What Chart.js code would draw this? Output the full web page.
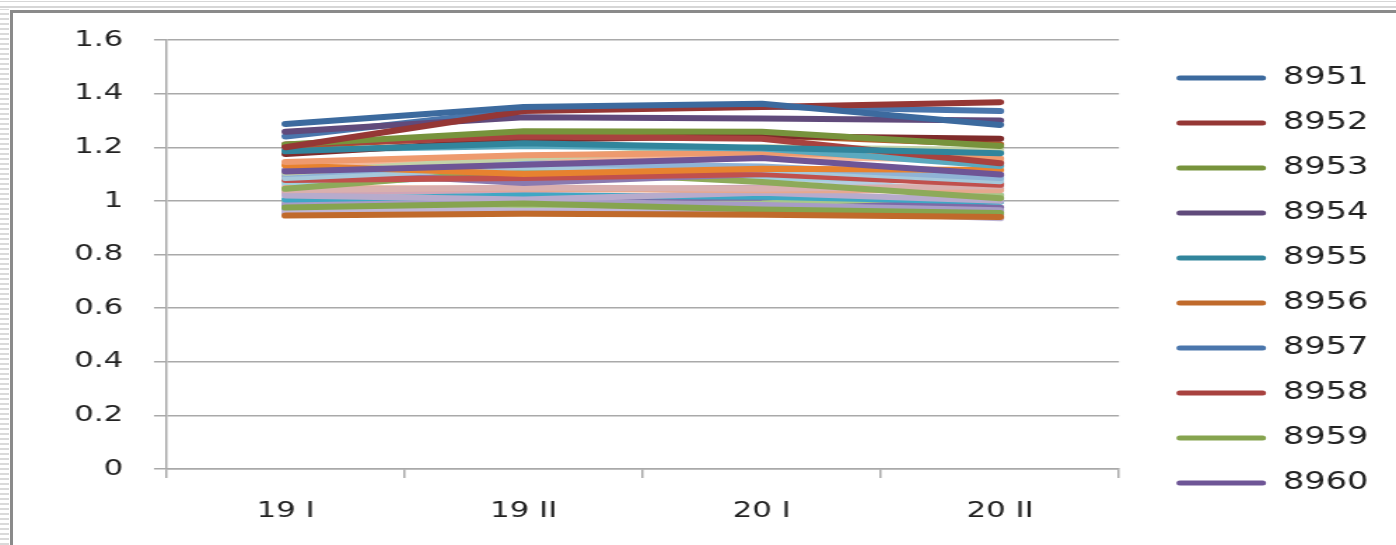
<!DOCTYPE html>
<html>
<head>
<meta charset="utf-8">
<script src="https://cdn.jsdelivr.net/npm/chart.js@4/dist/chart.umd.min.js"></script>
<style>
  html, body { margin: 0; padding: 0; background: #fff; width: 1396px; height: 545px; overflow: hidden; }
  #rows { position: absolute; left: 0; top: 0; width: 9px; height: 545px;
          background: repeating-linear-gradient(to bottom, #fff 0, #fff 3px, #dadada 3px, #dadada 5px); }
  #cols { position: absolute; left: 0; top: 0; width: 1396px; height: 9px;
          background: linear-gradient(to bottom, #fff 0, #fff 1px, #d6d6d6 1px, #d6d6d6 2px, #fff 2px, #fff 6px, #d6d6d6 6px, #d6d6d6 8px, #fff 8px); }
  #frame { position: absolute; left: 10px; top: 10px; width: 1400px; height: 600px;
           border-left: 3px solid #8a8a8a; border-top: 3px solid #8a8a8a; }
  #wrap { position: absolute; left: 0; top: 0; width: 997px; height: 545px;
          transform: scaleX(1.4002); transform-origin: 0 0; }
</style>
</head>
<body>
<div id="rows"></div>
<div id="cols"></div>
<div id="frame"></div>
<div id="wrap"><canvas id="c" width="997" height="545"></canvas></div>
<script>
// Half-year periods on the category axis
const periods = ['19 I', '19 II', '20 I', '20 II'];
const yTickLabels = ['0', '0.2', '0.4', '0.6', '0.8', '1', '1.2', '1.4', '1.6'];

// One small array per station: values for 19 I, 19 II, 20 I, 20 II
const s8951 = [1.287, 1.350, 1.362, 1.283];
const s8952 = [1.200, 1.335, 1.350, 1.368];
const s8953 = [1.210, 1.260, 1.258, 1.205];
const s8954 = [1.258, 1.312, 1.307, 1.300];
const s8955 = [1.185, 1.215, 1.198, 1.178];
const s8956 = [0.945, 0.952, 0.948, 0.940];
const s8957 = [1.240, 1.340, 1.352, 1.335];
const s8958 = [1.210, 1.240, 1.232, 1.140];
const s8959 = [0.975, 0.990, 0.968, 0.955];
const s8960 = [1.110, 1.135, 1.160, 1.098];
const s8961 = [1.175, 1.228, 1.242, 1.232];
const s8962 = [1.205, 1.245, 1.245, 1.210];
const s8963 = [1.190, 1.205, 1.195, 1.130];
const s8964 = [1.145, 1.170, 1.180, 1.158];
const s8965 = [1.132, 1.100, 1.120, 1.115];
const s8966 = [1.105, 1.160, 1.200, 1.190];
const s8967 = [1.100, 1.140, 1.128, 1.085];
const s8968 = [1.085, 1.125, 1.118, 1.073];
const s8969 = [1.078, 1.085, 1.100, 1.060];
const s8970 = [1.115, 1.067, 1.100, 1.095];
const s8971 = [1.045, 1.115, 1.070, 1.010];
const s8972 = [1.040, 1.050, 1.045, 1.055];
const s8973 = [1.048, 1.045, 1.040, 1.040];
const s8974 = [1.020, 1.005, 1.030, 1.000];
const s8975 = [1.005, 1.020, 1.015, 0.997];
const s8976 = [1.030, 1.040, 1.050, 1.045];
const s8977 = [1.070, 1.090, 1.085, 1.080];
const s8978 = [0.990, 1.000, 0.985, 0.965];
const s8979 = [1.000, 0.985, 0.990, 1.020];
const s8980 = [0.960, 0.975, 0.970, 0.935];
const s8981 = [0.985, 0.990, 1.003, 0.975];
const s8982 = [0.970, 0.980, 1.000, 1.000];
const s8983 = [1.138, 1.148, 1.165, 1.152];
const s8984 = [0.955, 0.970, 0.960, 0.948];
const s8985 = [1.060, 1.100, 1.095, 1.022];
const s8986 = [1.088, 1.084, 1.098, 1.065];

const stations = ['8951','8952','8953','8954','8955','8956','8957','8958','8959','8960',
  '8961','8962','8963','8964','8965','8966','8967','8968','8969','8970',
  '8971','8972','8973','8974','8975','8976','8977','8978','8979','8980',
  '8981','8982','8983','8984','8985','8986'];
const series = [s8951,s8952,s8953,s8954,s8955,s8956,s8957,s8958,s8959,s8960,
  s8961,s8962,s8963,s8964,s8965,s8966,s8967,s8968,s8969,s8970,
  s8971,s8972,s8973,s8974,s8975,s8976,s8977,s8978,s8979,s8980,
  s8981,s8982,s8983,s8984,s8985,s8986];
const colors = ['#3c6a9e','#953735','#77933c','#604a7b','#31859c','#c06a2b','#4a76ac','#a8423f','#86a44f','#6e5596',
  '#7f2b2a','#b0602a','#5aa9bf','#ee9a6e','#e7822f','#c3d3a9','#8fb3d6','#a5c8db','#c0504d','#8a7ab0',
  '#8daa5a','#d9afae','#e6a88e','#b7abcc','#3fa7c4','#cfa5b8','#9fcfde','#a79cc6','#a8c78a','#c0b6d4',
  '#7e6aa6','#5e8fc6','#f4b79a','#a89bc2','#b6cde2','#b5504e'];
const legendCount = 10;

const font = 'DejaVu Sans';
const axisGrey = '#a9a9a9';

const datasets = series.map((vals, i) => ({
  label: stations[i],
  data: vals,
  borderColor: colors[i],
  backgroundColor: colors[i],
  borderWidth: 6,
  borderCapStyle: 'round',
  borderJoinStyle: 'round',
  pointRadius: 0,
  tension: 0,
  fill: false
}));

new Chart(document.getElementById('c'), {
  type: 'line',
  data: { labels: periods, datasets },
  options: {
    responsive: false,
    animation: false,
    events: [],
    layout: { padding: { top: 40, bottom: 24, left: 0, right: 14 } },
    plugins: {
      tooltip: { enabled: false },
      legend: {
        position: 'right',
        align: 'center',
        labels: {
          boxWidth: 64,
          boxHeight: 5,
          padding: 21,
          color: '#222',
          useBorderRadius: true,
          borderRadius: 2.5,
          font: { family: font, size: 24 },
          filter: (item) => item.datasetIndex < legendCount,
          generateLabels: (chart) => Chart.defaults.plugins.legend.labels.generateLabels(chart)
            .map(l => Object.assign(l, { lineWidth: 0, fillStyle: l.strokeStyle }))
        }
      }
    },
    scales: {
      x: {
        type: 'category',
        offset: true,
        grid: { offset: true, drawOnChartArea: false, tickLength: 9, color: axisGrey, lineWidth: 1.5 },
        border: { color: axisGrey, width: 1.5 },
        ticks: { color: '#222', padding: 20, font: { family: font, size: 22 } },
        afterFit: (s) => { s.height = 52; }
      },
      y: {
        min: 0,
        max: 1.6,
        ticks: {
          stepSize: 0.2,
          padding: 22,
          color: '#222',
          font: { family: font, size: 22 },
          callback: (v, i) => yTickLabels[i]
        },
        grid: { color: axisGrey, lineWidth: 1.5, tickLength: 9 },
        border: { color: axisGrey, width: 1.5 },
        afterFit: (s) => { s.width = 119; }
      },
      gap: {
        position: 'right',
        display: true,
        grid: { display: false },
        ticks: { display: false },
        border: { display: false },
        afterFit: (s) => { s.width = 20; }
      }
    }
  }
});
</script>
</body>
</html>
